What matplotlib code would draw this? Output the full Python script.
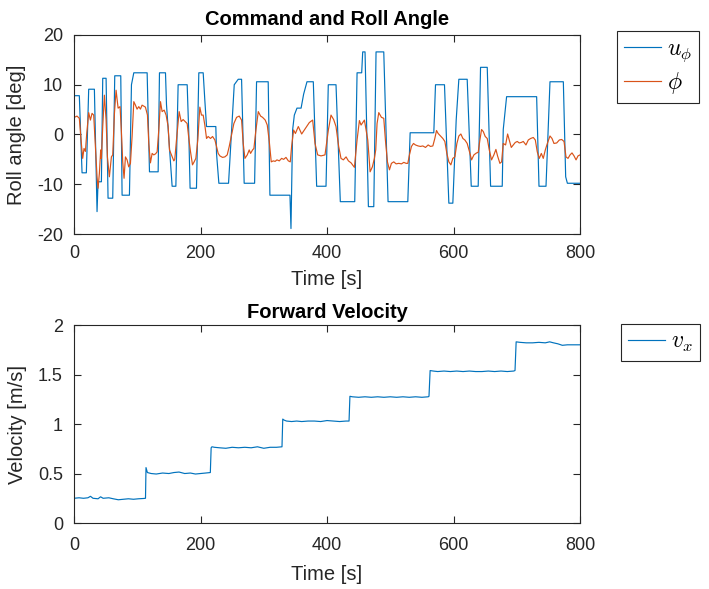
import matplotlib
matplotlib.use("Agg")
import matplotlib.pyplot as plt

plt.rcParams["font.family"] = ["Liberation Sans", "DejaVu Sans"]
plt.rcParams["mathtext.fontset"] = "cm"
plt.rcParams["axes.unicode_minus"] = False

# Roll command u_phi (breakpoints of the rate-limited step command)
cmd_t = [0, 8.4, 12.7, 19.5, 23.2, 32.2, 36.4, 38.0, 43.3, 45.4, 50.7, 53.8,
         61.2, 64.4, 73.9, 76.0, 87.6, 90.8, 94.5, 115.6, 119.3, 133.0, 135.1,
         144.6, 146.2, 155.1, 161.0, 164.6, 178.9, 181.5, 183.5, 193.6, 197.3,
         204.2, 206.8, 209.5, 224.2, 225.3, 229.0, 244.3, 253.3, 259.6, 264.9,
         269.0, 285.5, 288.6, 307.0, 309.7, 341.4, 343.0, 345.6, 348.3, 352.5,
         359.0, 363.0, 368.3, 378.3, 383.6, 398.4, 402.0, 414.2, 421.0, 443.8,
         447.5, 454.8, 456.4, 460.1, 465.4, 473.9, 477.5, 489.7, 496.5, 527.7,
         531.4, 568.8, 571.5, 585.7, 592.6, 598.9, 604.2, 608.4, 621.6, 628.0,
         639.0, 642.7, 653.3, 658.6, 677.0, 678.6, 683.9, 731.4, 735.1, 746.2,
         752.5, 773.6, 777.3, 780.0, 800]
cmd_v = [7.8, 7.8, -7.7, -7.7, 9.1, 9.1, -15.5, -9.5, -9.5, 11.3, 11.3, -12.8,
         -12.8, 11.8, 11.8, -12.2, -12.2, 10.0, 12.4, 12.4, -7.5, -7.5, 12.4,
         12.4, 6.0, -10.4, -10.4, 10.0, 10.0, 0.0, -10.8, -10.8, 12.4,
         12.4, 6.9, 1.6, 1.6, -3.8, -9.8, -9.8, 10.0, 11.1, 11.1,
         -9.8, -9.8, 10.6, 10.6, -12.2, -12.2, -18.9, 0.9, 3.9, 5.3,
         5.3, 8.1, 10.6, 10.6, -10.4, -10.4, 10.0, 10.0, -13.5, -13.5,
         12.4, 12.4, 16.6, 16.6, -14.5, -14.5, 16.6, 16.6, -13.5, -13.5,
         0.35, 0.35, 10.0, 10.0, -13.8, -13.8, 2.9, 11.1, 11.1, -10.4,
         -10.4, 13.5, 13.5, -10.4, -10.4, 1.0, 7.6, 7.6, -10.4, -10.4,
         10.6, 10.6, -8.5, -9.8, -9.8]

# Measured roll angle phi
phi_t = [0.5, 4.7, 8.4, 11.1, 13.7, 15.8, 18.0, 20.1, 23.2, 25.9, 28.5, 31.1,
         33.8, 36.4, 38.0, 40.1, 42.2, 43.3, 45.4, 48.0, 50.7, 52.8, 55.9, 59.1,
         61.2, 63.9, 66.5, 69.7, 72.8, 74.9, 77.0, 79.1, 81.3, 83.9, 86.5, 89.2,
         91.8, 94.5, 97.1, 99.7, 102.4, 105.0, 107.6, 112.9, 116.1, 118.2, 120.8,
         123.5, 126.1, 128.8, 131.4, 134.0, 136.7, 139.3, 142.5, 145.6, 148.8,
         150.9, 154.1, 157.8, 159.3, 162.0, 166.2, 169.4, 172.5, 175.7, 178.9,
         181.5, 184.1, 187.3, 189.9, 192.6, 195.7, 198.9, 201.5, 204.2, 206.8,
         209.5, 212.1, 215.8, 219.0, 222.7, 225.3, 227.9, 230.6, 234.8, 238.5,
         242.2, 245.4, 249.0, 252.7, 257.0, 261.2, 264.9, 267.5, 270.2, 273.9,
         277.0, 279.1, 282.3, 284.4, 287.6, 291.3, 295.0, 298.1, 302.3, 305.5,
         308.7, 311.8, 315.0, 318.0, 320.8, 324.5, 328.2, 331.4, 335.1, 338.8,
         341.9, 344.0, 347.2, 350.0, 354.6, 359.9, 366.7, 372.0, 377.3, 381.0,
         385.2, 390.5, 396.8, 402.1, 406.3, 410.5, 414.2, 418.4, 422.1, 425.8,
         430.1, 433.8, 438.0, 443.3, 447.5, 451.2, 453.8, 459.1, 464.4, 468.1,
         471.7, 474.9, 477.0, 479.1, 481.8, 486.0, 489.7, 492.3, 495.5, 498.7,
         501.8, 505.5, 509.2, 513.4, 517.7, 521.4, 525.0, 527.7, 530.3, 533.5,
         536.7, 539.8, 544.0, 547.7, 551.4, 555.7, 559.9, 563.6, 567.3, 570.4,
         573.1, 575.7, 579.4, 583.1, 586.3, 589.4, 592.6, 595.8, 598.9, 602.1,
         605.3, 608.4, 611.6, 614.8, 617.9, 621.6, 625.3, 628.5, 632.2, 636.4,
         639.0, 641.7, 644.3, 647.0, 650.1, 653.3, 656.5, 660.1, 663.8, 667.0,
         669.6, 673.3, 676.0, 678.6, 682.3, 685.5, 688.1, 691.3, 694.4, 697.6,
         700.8, 703.9, 707.1, 710.3, 714.5, 718.2, 721.9, 726.1, 729.3, 732.4,
         735.6, 738.8, 741.9, 745.1, 748.3, 752.5, 755.7, 758.8, 763.1, 767.3,
         771.0, 774.7, 777.8, 781.0, 784.2, 787.3, 790.5, 793.7, 796.8, 800.0]
phi_v = [3.45, 3.7, 3.25, -1.1, -4.8, -2.8, -3.4, 0.2, 4.4, 2.9, 4.25, 3.9,
         -2.4, -8.5, -10.8, -7.8, -3.1, -4.8, 1.6, 7.9, 2.9, -4.5, -8.5, -4.5,
         -4.1, 4.25, 8.9, 5.3, 5.6, 0.6, -5.5, -8.8, -4.5, -5.1, -6.5, -5.8,
         -0.4, 6.6, 5.9, 5.1, 5.6, 5.1, 5.9, 5.5, 3.9, -1.8, -5.7,
         -3.8, -4.1, -3.9, -3.5, 0.9, 6.6, 4.6, 4.9, 3.9, 1.6,
         -3.1, -4.1, -5.3, -5.0, -1.1, 4.6, 2.6, 3.0, 2.6, 2.2,
         -0.8, -3.4, -6.1, -5.5, -4.8, -1.1, 5.5, 3.9, 3.9, 1.9,
         -0.8, -0.4, -0.8, -0.4, -1.1, -2.4, -3.8, -4.3, -4.6, -4.5,
         -4.1, -2.4, -0.1, 2.2, 3.45, 3.7, 2.9, -1.8, -4.8, -4.1,
         -3.1, -3.8, -3.1, -2.8, 0.9, 4.6, 3.7, 3.45, 2.9, 1.9,
         -1.4, -5.5, -5.3, -5.4, -5.1, -5.3, -4.8, -5.0, -4.6, -5.3,
         -5.5, -2.4, 0.9, 0.2, 1.6, 0.1, 1.4, 2.4, 2.9, -1.8,
         -4.1, -4.3, -4.1, 0.9, 3.9, 3.0, 1.6, -2.4, -4.8, -5.1,
         -4.5, -5.3, -5.7, -6.6, -1.1, 2.8, 1.9, 2.9, -1.1, -7.5,
         -6.5, -4.8, -3.1, 2.2, 4.4, 3.45, 3.25, -1.1, -5.5, -7.1,
         -5.8, -5.5, -5.9, -5.8, -5.9, -5.6, -5.8, -5.8, -4.1, -2.4,
         -1.8, -2.1, -2.3, -2.4, -2.3, -2.6, -2.1, -2.4, -2.3, -0.8,
         0.8, 0.2, -0.3, -0.8, -1.4, -3.8, -5.5, -6.1, -4.8, -4.5,
         -1.8, -0.3, 0.1, -0.8, -1.1, -1.8, -3.5, -5.1, -4.1, -3.7,
         -3.6, -1.1, 1.0, 0.6, -0.4, -0.8, -3.1, -5.1, -4.1, -3.0,
         -4.3, -5.8, -5.5, -1.8, -2.1, 0.1, -1.1, -2.6, -2.1, -1.6,
         -1.4, -1.7, -1.6, -1.4, -2.1, -1.1, -0.8, -0.6, -1.1, -3.5,
         -4.8, -3.8, -4.8, -3.1, -1.8, -0.3, -0.8, -1.8, -1.7, -1.1,
         -1.0, -1.4, -4.5, -4.8, -4.1, -3.7, -4.3, -5.1, -4.3, -4.1]

# Forward velocity v_x
vel_t = [0, 8, 15, 22, 26, 30, 38, 42, 46, 55, 62, 70, 78, 86, 94, 102, 110,
         113.0, 113.8, 116, 122, 130, 140, 150, 158, 166, 175, 184, 192, 200,
         208, 215.5, 216.8, 218, 222, 230, 240, 250, 260, 270, 280, 290, 300,
         310, 320, 328.8, 330.0, 332, 336, 344, 352, 360, 370, 380, 390, 400,
         410, 420, 430, 434.8, 436.2, 440, 450, 460, 470, 480, 490, 500, 510,
         520, 530, 540, 550, 560, 561.2, 563.0, 568, 575, 585, 595, 605, 615,
         625, 635, 645, 655, 665, 675, 685, 695, 697.2, 699.0, 705, 715, 725,
         735, 745, 752, 758, 765, 772, 780, 790, 800]
vel_v = [0.25, 0.255, 0.25, 0.255, 0.27, 0.25, 0.245, 0.265, 0.25, 0.255,
         0.245, 0.235, 0.24, 0.245, 0.24, 0.245, 0.248,
         0.25, 0.56, 0.51, 0.50, 0.495, 0.505, 0.50, 0.51, 0.515, 0.50, 0.505,
         0.495, 0.50,
         0.505, 0.51, 0.76, 0.77, 0.765, 0.76, 0.755, 0.765, 0.76, 0.765, 0.76,
         0.77, 0.755, 0.765, 0.765,
         0.77, 1.05, 1.04, 1.03, 1.025, 1.03, 1.025, 1.03, 1.03, 1.025, 1.035,
         1.03, 1.025, 1.03,
         1.03, 1.28, 1.275, 1.27, 1.275, 1.27, 1.275, 1.27, 1.275, 1.27,
         1.275, 1.27, 1.275, 1.27, 1.275,
         1.28, 1.54, 1.535, 1.53, 1.535, 1.53, 1.535, 1.53, 1.535, 1.53,
         1.53, 1.535, 1.53, 1.535, 1.53, 1.535,
         1.54, 1.83, 1.825, 1.82, 1.82, 1.825, 1.82, 1.83, 1.82, 1.81, 1.795,
         1.80, 1.80, 1.80]

BLUE = "#0072BD"
ORANGE = "#D95319"
AXCOL = "#262626"
TICK_FS = 13
LABEL_FS = 14.5

fig = plt.figure(figsize=(7.09, 5.89), dpi=100)
ax1 = fig.add_axes([0.1044, 0.6027, 0.7137, 0.3379])
ax2 = fig.add_axes([0.1044, 0.1120, 0.7137, 0.3362])


def style(ax):
    for sp in ax.spines.values():
        sp.set_color(AXCOL)
        sp.set_linewidth(0.8)
    ax.tick_params(direction="in", top=True, right=True, length=5,
                   width=0.8, color=AXCOL, labelsize=TICK_FS,
                   labelcolor=AXCOL, pad=8)


l1, = ax1.plot(cmd_t, cmd_v, color=BLUE, lw=0.85, label=r"$u_\phi$")
l2, = ax1.plot(phi_t, phi_v, color=ORANGE, lw=0.85, label=r"$\phi$")
ax1.set_xlim(0, 800)
ax1.set_ylim(-20, 20)
ax1.set_xticks([0, 200, 400, 600, 800])
ax1.set_yticks([-20, -10, 0, 10, 20])
ax1.set_xlabel("Time [s]", fontsize=LABEL_FS, color=AXCOL, labelpad=6)
ax1.set_ylabel("Roll angle [deg]", fontsize=LABEL_FS, color=AXCOL,
               labelpad=8)
ax1.set_title("Command and Roll Angle", fontsize=LABEL_FS, fontweight="bold",
              pad=7)
style(ax1)

l3, = ax2.plot(vel_t, vel_v, color=BLUE, lw=0.85, label=r"$v_x$")
ax2.set_xlim(0, 800)
ax2.set_ylim(0, 2)
ax2.set_xticks([0, 200, 400, 600, 800])
ax2.set_yticks([0, 0.5, 1, 1.5, 2])
ax2.set_yticklabels(["0", "0.5", "1", "1.5", "2"])
ax2.set_xlabel("Time [s]", fontsize=LABEL_FS, color=AXCOL, labelpad=8)
ax2.set_ylabel("Velocity [m/s]", fontsize=LABEL_FS, color=AXCOL,
               labelpad=8)
ax2.set_title("Forward Velocity", fontsize=LABEL_FS, fontweight="bold",
              pad=5)
ax2.tick_params(axis="x", pad=10)
style(ax2)
ax2.tick_params(axis="x", pad=10)

leg_kw = dict(loc="upper left", fontsize=17, frameon=True, fancybox=False,
              edgecolor=AXCOL, framealpha=1, handlelength=1.55,
              handletextpad=0.25, borderpad=0.3, labelspacing=0.25,
              borderaxespad=0)
lg1 = fig.legend(handles=[l1, l2], bbox_to_anchor=(617 / 709, 1 - 31 / 589),
                 **leg_kw)
lg2 = fig.legend(handles=[l3], bbox_to_anchor=(621 / 709, 1 - 324 / 589),
                 **leg_kw)
for lg in (lg1, lg2):
    lg.get_frame().set_linewidth(0.8)

fig.savefig("out.png", dpi=100)
